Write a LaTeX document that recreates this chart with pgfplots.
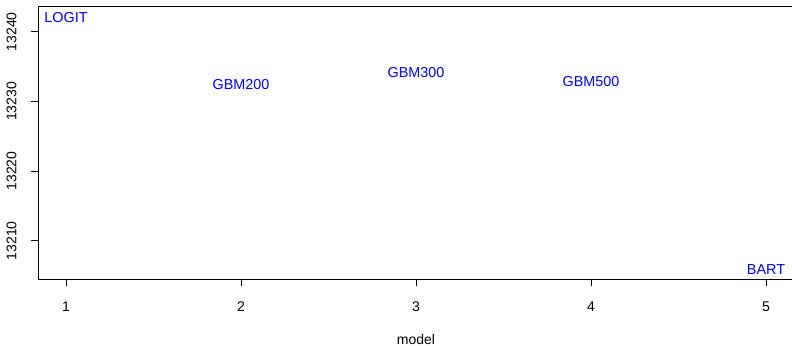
\documentclass[border=0pt]{standalone}
\usepackage{pgfplots}
\pgfplotsset{compat=1.18}
\usepackage{fontspec}
\setmainfont{Liberation Sans}
\newcommand\tf{\fontsize{14bp}{16bp}\selectfont}
\begin{document}
\begin{tikzpicture}[x=1bp,y=1bp]
\begin{axis}[
  at={(38bp,67bp)}, anchor=south west,
  scale only axis, width=756bp, height=273bp,
  xmin=0.84, xmax=5.16, ymin=13204.5, ymax=13243.7,
  axis line style={line width=0.8pt},
  xtick={1,2,3,4,5}, xticklabels={{\tf 1},{\tf 2},{\tf 3},{\tf 4},{\tf 5}},
  ytick={13210,13220,13230,13240}, yticklabels={{\tf 13210},{\tf 13220},{\tf 13230},{\tf 13240}},
  xtick pos=left, ytick pos=left, tick align=outside,
  major tick length=7.2bp,
  every tick/.style={black, line width=0.8pt},
  scaled ticks=false,
  xticklabel style={anchor=north, inner sep=0pt},
  xticklabel shift=15.5bp,
  yticklabel style={rotate=90, anchor=south, inner sep=0pt},
  yticklabel shift=14.1bp,
  xlabel={\tf model},
  xlabel style={at={(axis description cs:0.5,0)}, anchor=base, inner sep=0pt, yshift=-65.5bp},
  clip=false,
]
\addplot[draw=none, mark=none, nodes near coords, point meta=explicit symbolic,
  nodes near coords style={anchor=center, text=blue, inner sep=0pt, font=\fontsize{14.4bp}{17bp}\selectfont}]
  table[meta=label] {
x y label
1 13242.1 LOGIT
2 13232.4 GBM200
3 13234.2 GBM300
4 13232.8 GBM500
5 13205.8 BART
};
\end{axis}
\pgfresetboundingbox
\path[use as bounding box] (0,0) rectangle (792bp,346bp);
\end{tikzpicture}
\end{document}
